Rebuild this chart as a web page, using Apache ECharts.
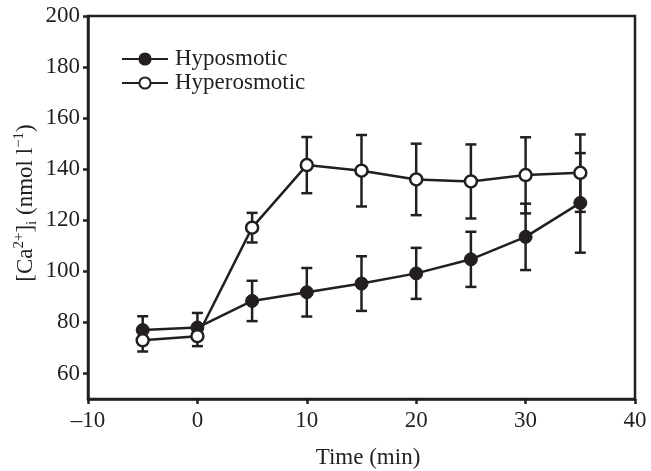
<!DOCTYPE html>
<html>
<head>
<meta charset="utf-8">
<script src="https://cdn.jsdelivr.net/npm/echarts@6/dist/echarts.min.js"></script>
<style>html,body{margin:0;padding:0;background:#fff;}#c{width:651px;height:471px;}</style>
</head>
<body>
<div id="c"></div>
<script>
var times = [-5, 0, 5, 10, 15, 20, 25, 30, 35];
var hypo = [77.0, 78.0, 88.4, 91.8, 95.2, 99.2, 104.7, 113.5, 126.8];
var hypoErrUp = [5.4, 5.7, 7.9, 9.5, 10.7, 10.0, 10.8, 13.0, 19.5];
var hypoErrDown = [0, 0, 7.9, 9.5, 10.7, 10.0, 10.8, 13.0, 19.5];
var hyper = [73.0, 74.6, 117.1, 141.6, 139.4, 136.0, 135.2, 137.7, 138.6];
var hyperErrUp = [0, 0, 5.8, 11.0, 14.0, 14.0, 14.5, 14.8, 15.0];
var hyperErrDown = [4.4, 3.9, 5.8, 11.0, 14.0, 14.0, 14.5, 15.0, 15.3];
var xTicks = [-10, 0, 10, 20, 30, 40];
var yTicks = [60, 80, 100, 120, 140, 160, 180, 200];

var INK = '#231f20';
var FONT = '"Liberation Serif", "Times New Roman", serif';
var FS = 23;

function errData(vals, up, down) {
  return times.map(function (t, i) { return [t, vals[i] - down[i], vals[i] + up[i], vals[i]]; });
}
function renderErr(params, api) {
  var x = api.value(0);
  var lo = api.coord([x, api.value(1)]);
  var hi = api.coord([x, api.value(2)]);
  var c = api.coord([x, api.value(3)]);
  var hw = 5.5;
  var st = { stroke: INK, lineWidth: 2.5 };
  var children = [];
  if (api.value(2) > api.value(3)) {
    children.push({ type: 'line', shape: { x1: c[0], y1: c[1], x2: hi[0], y2: hi[1] }, style: st });
    children.push({ type: 'line', shape: { x1: hi[0] - hw, y1: hi[1], x2: hi[0] + hw, y2: hi[1] }, style: st });
  }
  if (api.value(1) < api.value(3)) {
    children.push({ type: 'line', shape: { x1: c[0], y1: c[1], x2: lo[0], y2: lo[1] }, style: st });
    children.push({ type: 'line', shape: { x1: lo[0] - hw, y1: lo[1], x2: lo[0] + hw, y2: lo[1] }, style: st });
  }
  return { type: 'group', children: children };
}

var chart = echarts.init(document.getElementById('c'), null, { renderer: 'canvas' });
chart.setOption({
  animation: false,
  backgroundColor: '#fff',
  grid: { left: 88, right: 16, top: 16, bottom: 72, show: true, borderColor: INK, borderWidth: 2.5, backgroundColor: 'transparent' },
  legend: {
    orient: 'vertical', left: 116, top: 42, itemWidth: 46, itemHeight: 14, itemGap: 0,
    data: ['Hyposmotic', 'Hyperosmotic'],
    textStyle: { fontFamily: FONT, fontSize: FS, color: INK, lineHeight: 24, padding: [0, 0, 0, 2] }
  },
  xAxis: {
    type: 'value', min: -10, max: 40, interval: 10,
    axisLine: { onZero: false, lineStyle: { color: INK, width: 2.5 } },
    axisTick: { show: true, length: 5, lineStyle: { color: INK, width: 2.5 } },
    axisLabel: { color: INK, fontFamily: FONT, fontSize: FS, margin: 10,
      formatter: function (v) { return v < 0 ? '\u2013' + Math.abs(v) : String(v); } },
    splitLine: { show: false }
  },
  yAxis: {
    type: 'value', min: 50, max: 200, interval: 10,
    axisLine: { show: true, onZero: false, lineStyle: { color: INK, width: 2.5 } },
    axisTick: { show: true, length: 5, customValues: yTicks, lineStyle: { color: INK, width: 2.5 } },
    axisLabel: { color: INK, fontFamily: FONT, fontSize: FS, margin: 8, customValues: yTicks },
    splitLine: { show: false }
  },
  graphic: [
    {
      type: 'text', x: 26, y: 203, rotation: Math.PI / 2,
      style: {
        text: '{n|[Ca}{sup|2+}{n|]}{sub|i}{n| (nmol l}{sup|\u22121}{n|)}',
        align: 'center', verticalAlign: 'middle',
        rich: {
          n: { fontFamily: FONT, fontSize: FS, fill: INK, lineHeight: 28, verticalAlign: 'middle' },
          sup: { fontFamily: FONT, fontSize: 15, fill: INK, lineHeight: 28, verticalAlign: 'top', padding: [0, 0, 8, 0] },
          sub: { fontFamily: FONT, fontSize: 15, fill: INK, lineHeight: 28, verticalAlign: 'bottom', padding: [6, 0, 0, 0] }
        },
        fill: INK
      }
    },
    {
      type: 'text', x: 368, y: 458,
      style: { text: 'Time (min)', font: FS + 'px ' + FONT, fill: INK, align: 'center', verticalAlign: 'middle' }
    }
  ],
  series: [
    { type: 'custom', name: 'errHypo', renderItem: renderErr, data: errData(hypo, hypoErrUp, hypoErrDown), z: 2, silent: true },
    { type: 'custom', name: 'errHyper', renderItem: renderErr, data: errData(hyper, hyperErrUp, hyperErrDown), z: 2, silent: true },
    {
      name: 'Hyposmotic', type: 'line', data: times.map(function (t, i) { return [t, hypo[i]]; }),
      symbol: 'circle', symbolSize: 13, z: 4,
      lineStyle: { color: INK, width: 2.5 },
      itemStyle: { color: INK, borderColor: INK, borderWidth: 1 }
    },
    {
      name: 'Hyperosmotic', type: 'line', data: times.map(function (t, i) { return [t, hyper[i]]; }),
      symbol: 'circle', symbolSize: 12, z: 5,
      lineStyle: { color: INK, width: 2.5 },
      itemStyle: { color: '#fff', borderColor: INK, borderWidth: 2.5 }
    }
  ]
});
</script>
</body>
</html>
